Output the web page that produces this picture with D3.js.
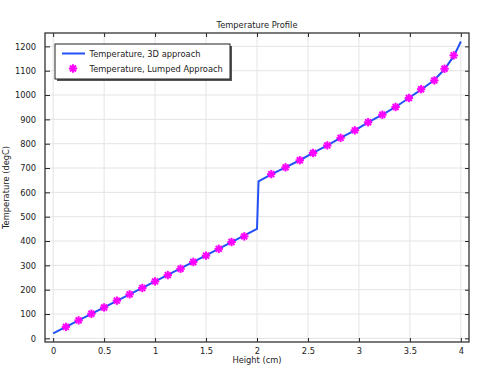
<!DOCTYPE html>
<html>
<head>
<meta charset="utf-8">
<script src="https://cdn.jsdelivr.net/npm/d3@7"></script>
<style>
  body { margin: 0; background: #fff; }
  text { font-family: "DejaVu Sans", sans-serif; font-size: 8.3px; fill: #222; }
</style>
</head>
<body>
<div id="chart"></div>
<script>
// 3D approach curve (height in cm, temperature in degC)
var heightLine = [0, 0.5, 1, 1.5, 2.0, 2.015, 2.14, 2.28, 2.42, 2.55, 2.69, 2.82, 2.96, 3.09, 3.23, 3.36, 3.49, 3.61, 3.74, 3.84, 3.93, 3.965, 4.0];
var tempLine = [20, 127, 234, 341, 450, 645, 674, 703, 732, 762, 793, 824, 855, 888, 919, 951, 988, 1022, 1062, 1106, 1160, 1189, 1220];
// lumped approach points
var heightLump = [0.125, 0.25, 0.375, 0.5, 0.625, 0.75, 0.875, 1.0, 1.125, 1.25, 1.375, 1.5, 1.625, 1.75, 1.875,
                  2.14, 2.28, 2.42, 2.55, 2.69, 2.82, 2.96, 3.09, 3.23, 3.36, 3.49, 3.61, 3.74, 3.84, 3.93];
var tempLump = [47, 74, 101, 127, 155, 181, 207, 234, 260, 286, 314, 340, 368, 396, 419,
                675, 703, 732, 762, 793, 824, 855, 888, 919, 951, 988, 1024, 1060, 1108, 1163];
var xTicks = [0, 0.5, 1, 1.5, 2, 2.5, 3, 3.5, 4];
var yTicks = [0, 100, 200, 300, 400, 500, 600, 700, 800, 900, 1000, 1100, 1200];
var seriesNames = ['Temperature, 3D approach', 'Temperature, Lumped Approach'];

var width = 480, height = 372;
var mLeft = 45, mRight = 469, mTop = 33, mBottom = 342;
var lineColor = '#2451f5', markColor = '#ff00ff';

var svg = d3.select('#chart').append('svg')
    .attr('width', width)
    .attr('height', height);

var x = d3.scaleLinear().domain([-0.08, 4.08]).range([mLeft, mRight]);
var y = d3.scaleLinear().domain([-15, 1255]).range([mBottom, mTop]);

// grid
var grid = svg.append('g');
grid.selectAll('.gx').data(xTicks).enter().append('line')
    .attr('x1', d => x(d)).attr('x2', d => x(d))
    .attr('y1', mTop).attr('y2', mBottom)
    .attr('stroke', '#e4e4e4').attr('stroke-width', 1);
grid.selectAll('.gy').data(yTicks).enter().append('line')
    .attr('x1', mLeft).attr('x2', mRight)
    .attr('y1', d => y(d)).attr('y2', d => y(d))
    .attr('stroke', '#e4e4e4').attr('stroke-width', 1);

// axes with inward ticks on all four sides
var fmt = d3.format('');
svg.append('g').attr('transform', `translate(0,${mBottom})`)
    .call(d3.axisBottom(x).tickValues(xTicks).tickSizeInner(-4).tickSizeOuter(0).tickPadding(6).tickFormat(fmt))
    .call(g => g.select('.domain').remove());
svg.append('g').attr('transform', `translate(0,${mTop})`)
    .call(d3.axisTop(x).tickValues(xTicks).tickSizeInner(-4).tickSizeOuter(0).tickFormat(''))
    .call(g => g.select('.domain').remove());
svg.append('g').attr('transform', `translate(${mLeft},0)`)
    .call(d3.axisLeft(y).tickValues(yTicks).tickSizeInner(-5).tickSizeOuter(0).tickPadding(9).tickFormat(fmt))
    .call(g => g.select('.domain').remove());
svg.append('g').attr('transform', `translate(${mRight},0)`)
    .call(d3.axisRight(y).tickValues(yTicks).tickSizeInner(-4).tickSizeOuter(0).tickFormat(''))
    .call(g => g.select('.domain').remove());
svg.selectAll('.tick line').attr('stroke', '#222');
svg.selectAll('.tick text').style('font-family', '"DejaVu Sans", sans-serif').style('font-size', '8.3px').attr('fill', '#222');

// frame
svg.append('rect')
    .attr('x', mLeft).attr('y', mTop)
    .attr('width', mRight - mLeft).attr('height', mBottom - mTop)
    .attr('fill', 'none').attr('stroke', '#333').attr('stroke-width', 1.3);

// line
var lineData = heightLine.map((h, i) => [h, tempLine[i]]);
svg.append('path')
    .datum(lineData)
    .attr('fill', 'none')
    .attr('stroke', lineColor)
    .attr('stroke-width', 2)
    .attr('d', d3.line().x(d => x(d[0])).y(d => y(d[1])));

// asterisk marker
function star(g, cx, cy) {
    var r = 4.2;
    [0, 45, 90, 135].forEach(a => {
        var rad = a * Math.PI / 180;
        g.append('line')
            .attr('x1', cx - r * Math.cos(rad)).attr('y1', cy - r * Math.sin(rad))
            .attr('x2', cx + r * Math.cos(rad)).attr('y2', cy + r * Math.sin(rad))
            .attr('stroke', markColor).attr('stroke-width', 2);
    });
}
var marks = svg.append('g');
heightLump.forEach((h, i) => star(marks, x(h), y(tempLump[i])));

// title and axis labels
svg.append('text').attr('x', (mLeft + mRight) / 2).attr('y', 27.5)
    .attr('text-anchor', 'middle').text('Temperature Profile');
svg.append('text').attr('x', (mLeft + mRight) / 2).attr('y', 362.5)
    .attr('text-anchor', 'middle').text('Height (cm)');
svg.append('text').attr('transform', `translate(9,${(mTop + mBottom) / 2})rotate(-90)`)
    .attr('text-anchor', 'middle').text('Temperature (degC)');

// legend
var lg = svg.append('g');
lg.append('rect').attr('x', 57).attr('y', 46).attr('width', 175).attr('height', 35).attr('fill', '#555');
lg.append('rect').attr('x', 55).attr('y', 44).attr('width', 175).attr('height', 35)
    .attr('fill', '#fff').attr('stroke', '#222').attr('stroke-width', 1);
lg.append('line').attr('x1', 62).attr('x2', 85).attr('y1', 53.5).attr('y2', 53.5)
    .attr('stroke', lineColor).attr('stroke-width', 2);
star(lg, 73, 68.5);
lg.selectAll('.lt').data(seriesNames).enter().append('text')
    .attr('x', 89.5).attr('y', (d, i) => 56.5 + i * 15)
    .text(d => d);
</script>
</body>
</html>
